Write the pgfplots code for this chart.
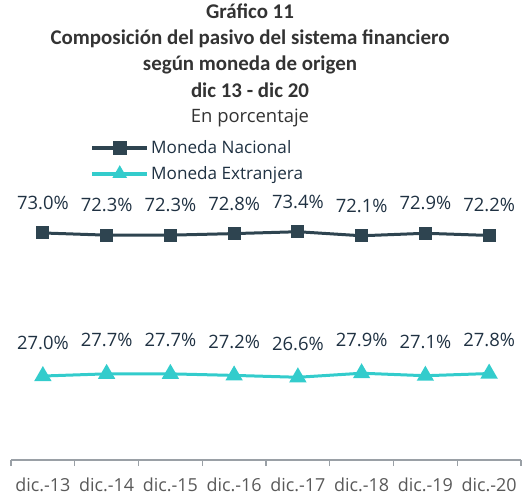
\documentclass[border=0pt]{standalone}
\usepackage{fontspec}
\setmainfont{Open Sans}
\newfontfamily\titlefont{Carlito}
\usepackage{pgfplots}
\pgfplotsset{compat=1.18}

\definecolor{nac}{HTML}{2E4450}
\definecolor{ext}{HTML}{33CCCC}
\definecolor{lbl}{HTML}{1F3142}
\definecolor{tcol}{HTML}{333333}
\definecolor{tick}{HTML}{595959}
\definecolor{axl}{HTML}{9AA0A6}

\begin{document}
\begin{tikzpicture}
\begin{axis}[
  at={(0,0)}, anchor=south west,
  scale only axis,
  width=510bp, height=311bp,
  xmin=-0.5, xmax=7.5,
  ymin=0, ymax=100,
  axis x line=bottom,
  axis y line=none,
  axis line style={axl, line width=1.2bp, -},
  xtick={0,...,7},
  xticklabels={dic.-13,dic.-14,dic.-15,dic.-16,dic.-17,dic.-18,dic.-19,dic.-20},
  major tick length=0pt,
  minor xtick={-0.5,0.5,...,7.5},
  minor tick length=6bp,
  tick align=outside,
  minor tick style={axl, line width=1.2bp},
  xticklabel style={font=\fontsize{18}{21}\selectfont, text=tick, yshift=-14bp},
  clip=false,
  legend style={draw=none, fill=none, at={(0.155,1.033)}, anchor=north west,
    font=\fontsize{17.2}{20}\selectfont, text=lbl, row sep=7bp, inner sep=0pt,
    /tikz/every even column/.append style={column sep=3bp}},
  legend cell align=left,
  legend image code/.code={\draw[mark repeat=2,mark phase=2,#1] plot coordinates {(0bp,0bp) (27.5bp,0bp) (55bp,0bp)};},
  point meta=y,
  nodes near coords={\pgfmathprintnumber[assume math mode=true,fixed,fixed zerofill,precision=1]{\pgfplotspointmeta}\%},
  every node near coord/.append style={font=\fontsize{18.5}{21}\selectfont, text=lbl, anchor=base},
]
\addplot[nac, line width=3bp, mark=square*, mark size=5bp, mark options={solid},
  legend image post style={line width=4bp},
  every node near coord/.append style={yshift=23.5bp}]
  coordinates {(0,73.0) (1,72.3) (2,72.3) (3,72.8) (4,73.4) (5,72.1) (6,72.9) (7,72.2)};
\addlegendentry{Moneda Nacional}
\addplot[ext, line width=3bp, mark=triangle*, mark size=7bp, mark options={solid},
  legend image post style={line width=4bp, mark size=4.5bp},
  every node near coord/.append style={yshift=27bp}]
  coordinates {(0,27.0) (1,27.7) (2,27.7) (3,27.2) (4,26.6) (5,27.9) (6,27.1) (7,27.8)};
\addlegendentry{Moneda Extranjera}
\end{axis}
\begin{scope}[every node/.style={text=tcol, anchor=base}]
\node[font=\titlefont\bfseries\fontsize{21}{24}\selectfont] at (239bp,441bp) {Gráfico 11};
\node[font=\titlefont\bfseries\fontsize{21}{24}\selectfont] at (239bp,415bp) {Composición del pasivo del sistema financiero};
\node[font=\titlefont\bfseries\fontsize{21}{24}\selectfont] at (239bp,389bp) {según moneda de origen};
\node[font=\titlefont\bfseries\fontsize{21}{24}\selectfont] at (239bp,362.5bp) {dic 13 - dic 20};
\node[font=\fontsize{18.5}{21}\selectfont] at (239bp,337bp) {En porcentaje};
\end{scope}
\pgfresetboundingbox
\path[use as bounding box] (-11bp,-38bp) rectangle (515bp,460bp);
\end{tikzpicture}
\end{document}
